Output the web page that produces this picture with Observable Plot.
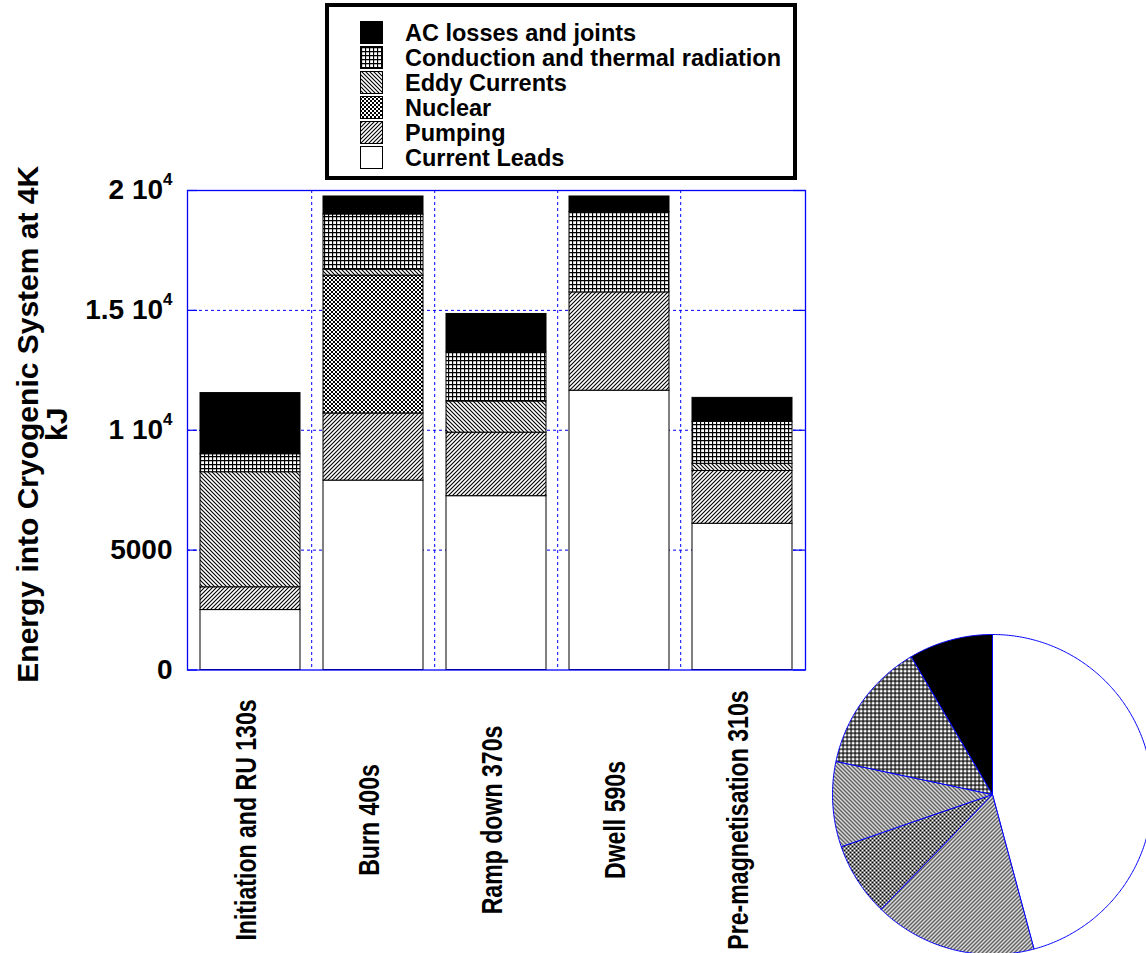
<!DOCTYPE html>
<html><head><meta charset="utf-8">
<script src="https://cdn.jsdelivr.net/npm/d3@7"></script>
<script src="https://cdn.jsdelivr.net/npm/@observablehq/plot@0.6"></script>
<style>
html,body{margin:0;padding:0;background:#fff;overflow:hidden;width:1146px;height:953px;}
#root{position:relative;width:1146px;height:953px;font-family:"Liberation Sans",Arial,sans-serif;}
#root > *{position:absolute;}
</style></head><body><div id="root"></div>
<script>
// ---- data ----
const phases = ["Initiation and RU 130s","Burn 400s","Ramp down 370s","Dwell 590s","Pre-magnetisation 310s"];
const seriesNames = ["Current Leads","Pumping","Nuclear","Eddy Currents","Conduction and thermal radiation","AC losses and joints"];
const currentLeads = [2500, 7900, 7250, 11650, 6100];
const pumping      = [950, 2800, 2650, 4100, 2200];
const nuclear      = [0, 5750, 0, 0, 0];
const eddy         = [4800, 250, 1300, 0, 300];
const conduction   = [750, 2300, 2050, 3350, 1750];
const acLosses     = [2550, 750, 1600, 650, 1000];
const yTicks = [0, 5000, 10000, 15000, 20000];
const yTickLabels = ["0", "5000", "1 10^4", "1.5 10^4", "2 10^4"];
const legendOrder = ["AC losses and joints","Conduction and thermal radiation","Eddy Currents","Nuclear","Pumping","Current Leads"];
const yTitle = "Energy into Cryogenic System at 4K\nkJ";

// ---- styles ----
const patternFill = {
  "Current Leads": "white",
  "Pumping": "url(#p-pump)",
  "Nuclear": "url(#p-nuc)",
  "Eddy Currents": "url(#p-eddy)",
  "Conduction and thermal radiation": "url(#p-cond)",
  "AC losses and joints": "black"
};

const root = document.getElementById("root");
root.insertAdjacentHTML("beforeend", `<svg width="0" height="0" style="left:0;top:0">
<defs>
<pattern id="p-pump" patternUnits="userSpaceOnUse" width="4" height="4">
 <rect width="4" height="4" fill="#fff"/>
 <path d="M-1,1 l2,-2 M0,4 l4,-4 M3,5 l2,-2" stroke="#000" stroke-width="1.1"/>
</pattern>
<pattern id="p-eddy" patternUnits="userSpaceOnUse" width="4" height="4">
 <rect width="4" height="4" fill="#fff"/>
 <path d="M-1,3 l2,2 M0,0 l4,4 M3,-1 l2,2" stroke="#000" stroke-width="1.1"/>
</pattern>
<pattern id="p-nuc" patternUnits="userSpaceOnUse" width="4" height="4">
 <rect width="4" height="4" fill="#fff"/>
 <path d="M-1,1 l2,-2 M0,4 l4,-4 M3,5 l2,-2 M-1,3 l2,2 M0,0 l4,4 M3,-1 l2,2" stroke="#000" stroke-width="1"/>
</pattern>
<pattern id="p-cond" patternUnits="userSpaceOnUse" width="4" height="4">
 <rect width="4" height="4" fill="#fff"/>
 <path d="M0,0.5 H4 M0.5,0 V4" stroke="#000" stroke-width="1.3"/>
</pattern>
</defs></svg>`);

const seriesValues = [currentLeads, pumping, nuclear, eddy, conduction, acLosses];
const barData = phases.flatMap((p, i) => seriesNames.map((s, j) => ({phase: p, series: s, value: seriesValues[j][i]})));

// ---- main chart ----
const W = 1146, H = 953;
const frameL = 187, frameR = 805, frameT = 190, frameB = 669.5;
const pIn = 0.186, pOut = 0.093;
const step = (frameR - frameL) / (phases.length - pIn + 2 * pOut);
const fw = frameR - frameL;

const chart = Plot.plot({
  width: W, height: H,
  marginLeft: frameL, marginRight: W - frameR, marginTop: frameT, marginBottom: H - frameB,
  style: {fontFamily: '"Liberation Sans", Arial, sans-serif', background: "white", overflow: "visible"},
  x: {domain: phases, paddingInner: pIn, paddingOuter: pOut, axis: null},
  y: {domain: [0, 20000], axis: null},
  color: {domain: seriesNames, range: seriesNames.map(s => patternFill[s])},
  marks: [
    Plot.ruleY([5000, 10000, 15000], {stroke: "blue", strokeDasharray: "3,3", strokeWidth: 1}),
    Plot.ruleX(phases.slice(1), {x: d => d, dx: -step / 2, stroke: "blue", strokeDasharray: "3,3", strokeWidth: 1}),
    Plot.barY(barData.filter(d => d.value > 0), {x: "phase", y: "value", z: "series", fill: "series", stroke: "black", strokeWidth: 1}),
    Plot.ruleY(yTicks, {insetRight: fw - 10, stroke: "blue", strokeWidth: 1.2}),
    Plot.ruleY(yTicks, {insetLeft: fw - 12, stroke: "blue", strokeWidth: 1.2}),
    Plot.frame({stroke: "blue", strokeWidth: 1.3}),
    Plot.text(yTicks, {y: d => d, text: (d, i) => yTickLabels[i], frameAnchor: "left", textAnchor: "end", dx: -15, fontSize: 28, fontWeight: "bold"}),
    Plot.text([yTitle], {frameAnchor: "left", textAnchor: "middle", rotate: -90, dx: -144, dy: -6, fontSize: 30, fontWeight: "bold", lineHeight: 0.95}),
    Plot.text(phases, {x: d => d, frameAnchor: "bottom", textAnchor: "middle", rotate: -90, dy: 150, dx: 5, fontSize: 30, fontWeight: "bold"})
  ]
});
chart.style.left = "0px"; chart.style.top = "0px";
root.appendChild(chart);

// superscripts & condensed category labels
const svgns = "http://www.w3.org/2000/svg";
chart.querySelectorAll("text").forEach(t => {
  const s = t.textContent;
  const m = s.match(/^(.*)\^(\d+)$/);
  if (m && t.children.length === 0) {
    t.textContent = m[1];
    const ts = document.createElementNS(svgns, "tspan");
    ts.setAttribute("dy", "-14");
    ts.setAttribute("font-size", "17");
    ts.textContent = m[2];
    t.appendChild(ts);
  }
  if (phases.includes(s)) {
    const tr = t.getAttribute("transform") || "";
    t.setAttribute("transform", tr + " scale(0.77,1)");
  }
});

// ---- legend ----
const lg = d3.create("svg").attr("width", 472).attr("height", 177)
  .style("left", "325px").style("top", "3px").style("position", "absolute");
lg.append("rect").attr("x", 2).attr("y", 2).attr("width", 468).attr("height", 173)
  .attr("fill", "white").attr("stroke", "black").attr("stroke-width", 4);
legendOrder.forEach((s, i) => {
  lg.append("rect").attr("x", 35.5).attr("y", 18.5 + 25 * i).attr("width", 22).attr("height", 22)
    .attr("fill", patternFill[s]).attr("stroke", "black").attr("stroke-width", 1);
  lg.append("text").attr("x", 80).attr("y", 37.7 + 25 * i).text(s)
    .attr("font-family", '"Liberation Sans", Arial, sans-serif').attr("font-weight", "bold").attr("font-size", 23.5);
});
root.appendChild(lg.node());

// ---- pie (totals per contribution) ----
const totals = seriesValues.map(v => d3.sum(v));
const arcs = d3.pie().sort(null).value(d => d)(totals);
const pieMarks = arcs.map((a, j) => {
  const pts = [{x: 0, y: 0}];
  const n = Math.max(2, Math.ceil((a.endAngle - a.startAngle) / 0.01));
  for (let k = 0; k <= n; k++) {
    const ang = a.startAngle + (a.endAngle - a.startAngle) * k / n;
    pts.push({x: Math.sin(ang), y: Math.cos(ang)});
  }
  pts.push({x: 0, y: 0});
  return Plot.line(pts, {x: "x", y: "y", fill: patternFill[seriesNames[j]], stroke: "blue", strokeWidth: 1, curve: "linear"});
});
const pie = Plot.plot({
  width: 324, height: 324, margin: 2,
  style: {background: "transparent", overflow: "visible"},
  x: {domain: [-1, 1], axis: null},
  y: {domain: [-1, 1], axis: null},
  marks: pieMarks
});
pie.style.left = "830px"; pie.style.top = "632px"; pie.style.position = "absolute";
root.appendChild(pie);
</script>
</body></html>
